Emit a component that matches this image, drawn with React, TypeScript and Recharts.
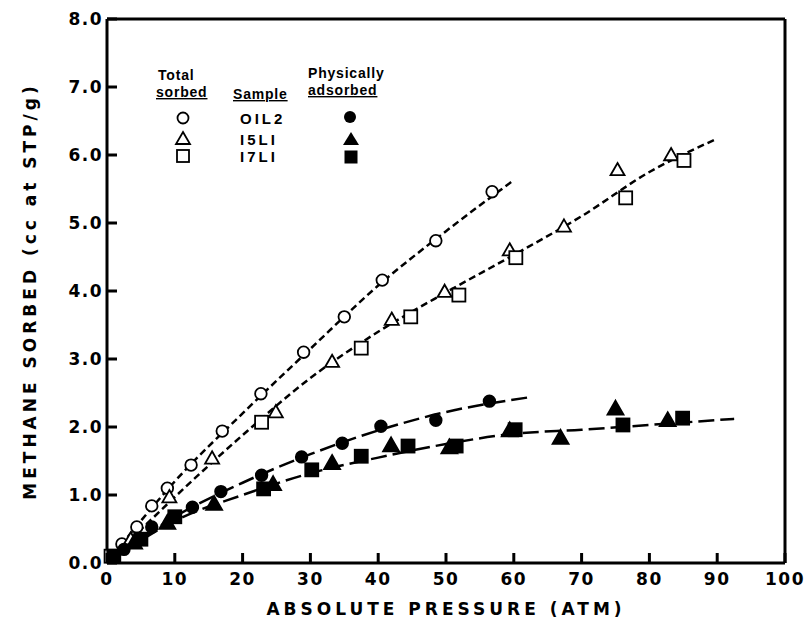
import React from "react";
import { ComposedChart, Line, Scatter, XAxis, YAxis, Label } from "recharts";

const xTicks = [0, 10, 20, 30, 40, 50, 60, 70, 80, 90, 100];
const topTicks = [10, 20, 30, 40, 50, 60, 70, 80, 90];
const yTicks = [0, 1, 2, 3, 4, 5, 6, 7, 8];

// total sorbed (open symbols)
const oil2Total = [
  { x: 2.2, y: 0.28 }, { x: 4.4, y: 0.53 }, { x: 6.6, y: 0.84 }, { x: 8.9, y: 1.1 },
  { x: 12.4, y: 1.44 }, { x: 17.0, y: 1.94 }, { x: 22.7, y: 2.49 }, { x: 29.0, y: 3.1 },
  { x: 35.0, y: 3.62 }, { x: 40.6, y: 4.16 }, { x: 48.5, y: 4.74 }, { x: 56.8, y: 5.46 },
];
const i5liTotal = [
  { x: 3.5, y: 0.35 }, { x: 9.2, y: 0.97 }, { x: 15.5, y: 1.54 }, { x: 24.9, y: 2.22 },
  { x: 33.2, y: 2.96 }, { x: 42.0, y: 3.58 }, { x: 49.8, y: 3.99 }, { x: 59.4, y: 4.6 },
  { x: 67.4, y: 4.95 }, { x: 75.3, y: 5.78 }, { x: 83.2, y: 6.0 },
];
const i7liTotal = [
  { x: 0.6, y: 0.1 }, { x: 22.8, y: 2.07 }, { x: 37.5, y: 3.16 }, { x: 44.8, y: 3.62 },
  { x: 51.9, y: 3.94 }, { x: 60.3, y: 4.49 }, { x: 76.5, y: 5.37 }, { x: 85.1, y: 5.92 },
];

// physically adsorbed (filled symbols)
const oil2Phys = [
  { x: 2.5, y: 0.2 }, { x: 6.6, y: 0.53 }, { x: 12.6, y: 0.82 }, { x: 16.8, y: 1.05 },
  { x: 22.8, y: 1.29 }, { x: 28.7, y: 1.56 }, { x: 34.7, y: 1.76 }, { x: 40.4, y: 2.01 },
  { x: 48.5, y: 2.1 }, { x: 56.4, y: 2.38 },
];
const i5liPhys = [
  { x: 4.0, y: 0.3 }, { x: 8.9, y: 0.59 }, { x: 15.8, y: 0.87 }, { x: 24.5, y: 1.16 },
  { x: 33.2, y: 1.47 }, { x: 41.9, y: 1.73 }, { x: 50.5, y: 1.7 }, { x: 59.4, y: 1.95 },
  { x: 66.9, y: 1.84 }, { x: 75.0, y: 2.27 }, { x: 82.7, y: 2.1 },
];
const i7liPhys = [
  { x: 1.0, y: 0.1 }, { x: 5.0, y: 0.35 }, { x: 10.0, y: 0.68 }, { x: 23.1, y: 1.09 },
  { x: 30.2, y: 1.37 }, { x: 37.5, y: 1.57 }, { x: 44.4, y: 1.72 }, { x: 51.5, y: 1.72 },
  { x: 60.2, y: 1.96 }, { x: 76.1, y: 2.03 }, { x: 84.9, y: 2.13 },
];

// hand-drawn curves
const oil2TotalCurve = [
  { x: 0, y: 0 }, { x: 5, y: 0.62 }, { x: 10, y: 1.2 }, { x: 20, y: 2.2 }, { x: 30, y: 3.15 },
  { x: 40, y: 4.08 }, { x: 50, y: 4.88 }, { x: 60, y: 5.63 },
];
const mixTotalCurve = [
  { x: 0, y: 0 }, { x: 10, y: 0.97 }, { x: 20, y: 1.88 }, { x: 30, y: 2.72 }, { x: 40, y: 3.4 },
  { x: 50, y: 3.98 }, { x: 60, y: 4.53 }, { x: 70, y: 5.1 }, { x: 80, y: 5.75 }, { x: 90, y: 6.24 },
];
const oil2PhysCurve = [
  { x: 0, y: 0 }, { x: 10, y: 0.68 }, { x: 20, y: 1.18 }, { x: 30, y: 1.6 }, { x: 40, y: 1.95 },
  { x: 50, y: 2.22 }, { x: 62.5, y: 2.44 },
];
const mixPhysCurve = [
  { x: 0, y: 0 }, { x: 10, y: 0.62 }, { x: 20, y: 1.0 }, { x: 30, y: 1.32 }, { x: 40, y: 1.55 },
  { x: 50, y: 1.75 }, { x: 60, y: 1.9 }, { x: 70, y: 1.96 }, { x: 80, y: 2.03 }, { x: 92.5, y: 2.12 },
];

const heavy = "'DejaVu Sans', sans-serif";
const font = "'Liberation Sans', Arial, sans-serif";
const tickStyle = { fontFamily: heavy, fontWeight: 700, fontSize: 17, letterSpacing: 1.5, fill: "#000" };
const titleStyle = { fontFamily: heavy, fontWeight: 700, fontSize: 17, letterSpacing: 4, fill: "#000" };

const circle = (filled: boolean) => (p: any) => (
  <circle cx={p.cx} cy={p.cy} r={5.8} fill={filled ? "#000" : "#fff"} stroke="#000" strokeWidth={1.8} />
);
const triangle = (filled: boolean) => (p: any) => {
  const s = filled ? 8 : 7;
  return (
    <path
      d={`M${p.cx},${p.cy - s} L${p.cx + s},${p.cy + s * 0.75} L${p.cx - s},${p.cy + s * 0.75} Z`}
      fill={filled ? "#000" : "#fff"}
      stroke="#000"
      strokeWidth={1.8}
    />
  );
};
const square = (filled: boolean) => (p: any) => (
  <rect x={p.cx - 6.5} y={p.cy - 6.5} width={13} height={13} fill={filled ? "#000" : "#fff"} stroke="#000" strokeWidth={1.8} />
);

const BottomTick = ({ x, y, payload }: any) => (
  <g>
    <line x1={x} y1={y} x2={x} y2={y - 10} stroke="#000" strokeWidth={3} />
    <text x={x} y={y + 22} textAnchor="middle" style={tickStyle}>{payload.value}</text>
  </g>
);
const TopTick = ({ x, y }: any) => (
  <line x1={x} y1={y} x2={x} y2={y + 10} stroke="#000" strokeWidth={3} />
);
const LeftTick = ({ x, y, payload }: any) => (
  <g>
    <line x1={x} y1={y} x2={x + 10} y2={y} stroke="#000" strokeWidth={3} />
    <text x={x - 4} y={y + 6} textAnchor="end" style={tickStyle}>{payload.value.toFixed(1)}</text>
  </g>
);
const RightTick = ({ x, y }: any) => (
  <line x1={x} y1={y} x2={x - 10} y2={y} stroke="#000" strokeWidth={3} />
);

const legendText = { fontFamily: font, fontWeight: 700, fontSize: 14, letterSpacing: 0.8, fill: "#000" };
const sampleText = { fontFamily: font, fontWeight: 700, fontSize: 15, letterSpacing: 3, fill: "#000" };

function Key() {
  return (
    <svg width={805} height={631} style={{ position: "absolute", left: 0, top: 0, pointerEvents: "none" }}>
      <text x={158} y={80} style={legendText}>Total</text>
      <text x={156} y={97} style={legendText} textDecoration="underline">sorbed</text>
      <text x={233} y={99} style={legendText} textDecoration="underline">Sample</text>
      <text x={308} y={78} style={legendText}>Physically</text>
      <text x={308} y={95} style={legendText} textDecoration="underline">adsorbed</text>
      <circle cx={183} cy={118} r={5.5} fill="#fff" stroke="#000" strokeWidth={1.8} />
      <path d="M183,132 L190,144 L176,144 Z" fill="#fff" stroke="#000" strokeWidth={1.8} />
      <rect x={177} y={150} width={12} height={12} fill="#fff" stroke="#000" strokeWidth={1.8} />
      <text x={240} y={124} style={sampleText}>OIL2</text>
      <text x={240} y={145} style={sampleText}>I5LI</text>
      <text x={240} y={162} style={sampleText}>I7LI</text>
      <circle cx={350} cy={117} r={6} fill="#000" />
      <path d="M351,132 L359,145 L343,145 Z" fill="#000" />
      <rect x={344.5} y={150.5} width={13} height={13} fill="#000" />
    </svg>
  );
}

export default function App() {
  return (
    <div style={{ position: "absolute", left: 0, top: 0, width: 805, height: 631, background: "#fff" }}>
      <ComposedChart
        width={805}
        height={631}
        margin={{ top: 18, right: 10, bottom: 8, left: 7 }}
      >
        <XAxis
          xAxisId="b"
          dataKey="x"
          type="number"
          domain={[0, 100]}
          ticks={xTicks}
          orientation="bottom"
          height={60}
          tickSize={0}
          tickMargin={0}
          tickLine={false}
          axisLine={{ stroke: "#000", strokeWidth: 3 }}
          tick={<BottomTick />}
          interval={0}
        >
          <Label value="ABSOLUTE PRESSURE (ATM)" position="insideBottom" offset={8} style={titleStyle} />
        </XAxis>
        <XAxis
          xAxisId="t"
          type="number"
          domain={[0, 100]}
          ticks={topTicks}
          orientation="top"
          height={1}
          tickSize={0}
          tickMargin={0}
          tickLine={false}
          axisLine={{ stroke: "#000", strokeWidth: 3 }}
          tick={<TopTick />}
          interval={0}
        />
        <YAxis
          yAxisId="l"
          dataKey="y"
          type="number"
          domain={[0, 8]}
          ticks={yTicks}
          orientation="left"
          width={100}
          tickSize={0}
          tickMargin={0}
          tickLine={false}
          axisLine={{ stroke: "#000", strokeWidth: 3 }}
          tick={<LeftTick />}
          interval={0}
        >
          <Label
            value="METHANE SORBED (cc at STP/g)"
            angle={-90}
            position="insideLeft"
            offset={23}
            style={{ ...titleStyle, textAnchor: "middle" }}
          />
        </YAxis>
        <YAxis
          yAxisId="r"
          type="number"
          domain={[0, 8]}
          ticks={yTicks}
          orientation="right"
          width={10}
          tickSize={0}
          tickMargin={0}
          tickLine={false}
          axisLine={{ stroke: "#000", strokeWidth: 3 }}
          tick={<RightTick />}
          interval={0}
        />

        <Line xAxisId="b" yAxisId="l" data={oil2TotalCurve} dataKey="y" type="monotone" stroke="#000" strokeWidth={2.5} strokeDasharray="7 4" dot={false} isAnimationActive={false} />
        <Line xAxisId="b" yAxisId="l" data={mixTotalCurve} dataKey="y" type="monotone" stroke="#000" strokeWidth={2.5} strokeDasharray="7 4" dot={false} isAnimationActive={false} />
        <Line xAxisId="b" yAxisId="l" data={oil2PhysCurve} dataKey="y" type="monotone" stroke="#000" strokeWidth={2.5} strokeDasharray="16 6" dot={false} isAnimationActive={false} />
        <Line xAxisId="b" yAxisId="l" data={mixPhysCurve} dataKey="y" type="monotone" stroke="#000" strokeWidth={2.5} strokeDasharray="16 6" dot={false} isAnimationActive={false} />

        <Scatter xAxisId="b" yAxisId="l" data={oil2Total} shape={circle(false)} isAnimationActive={false} />
        <Scatter xAxisId="b" yAxisId="l" data={i5liTotal} shape={triangle(false)} isAnimationActive={false} />
        <Scatter xAxisId="b" yAxisId="l" data={i7liTotal} shape={square(false)} isAnimationActive={false} />
        <Scatter xAxisId="b" yAxisId="l" data={oil2Phys} shape={circle(true)} isAnimationActive={false} />
        <Scatter xAxisId="b" yAxisId="l" data={i5liPhys} shape={triangle(true)} isAnimationActive={false} />
        <Scatter xAxisId="b" yAxisId="l" data={i7liPhys} shape={square(true)} isAnimationActive={false} />
      </ComposedChart>
      <Key />
    </div>
  );
}
